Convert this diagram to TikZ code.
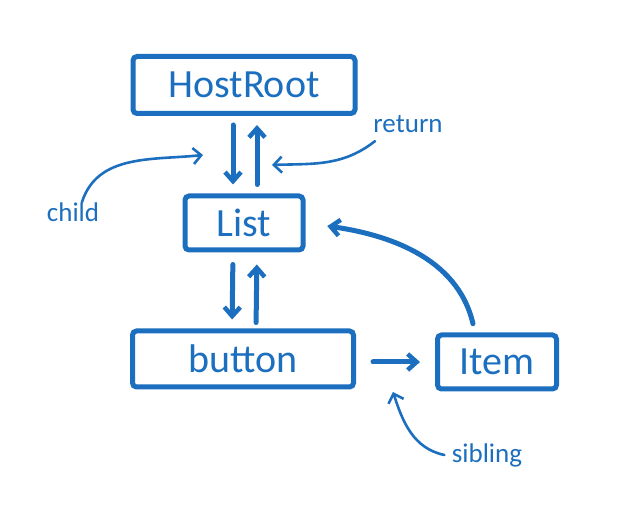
\documentclass[tikz,border=0pt]{standalone}
\usepackage{fontspec}
\setmainfont{Carlito}
\usepackage{tikz}
\usetikzlibrary{arrows.meta,positioning}
\definecolor{fiberblue}{HTML}{1C6FBE}
\tikzset{
  fiber/.style={draw=fiberblue,line width=5pt,rounded corners=4pt,text=fiberblue,font=\fontsize{40}{46}\selectfont,inner sep=0pt},
  link/.style={draw=fiberblue,line width=5pt,-{Straight Barb[length=9pt,width=16pt,line width=4.5pt]},line cap=round},
  note/.style={text=fiberblue,font=\fontsize{27}{32}\selectfont},
  hint/.style={draw=fiberblue,line width=2.6pt,-{Straight Barb[length=8pt,width=16pt]},line cap=round}
}
\begin{document}
\begin{tikzpicture}[x=1pt,y=1pt]
  \useasboundingbox (0,0) rectangle (642,518);
  % fiber nodes
  \node[fiber,minimum width=222pt,minimum height=57pt] (host) at (244,433) {HostRoot};
  \node[fiber,minimum width=118pt,minimum height=54pt] (list) at (244,295) {List};
  \node[fiber,minimum width=221pt,minimum height=56pt] (button) at (243,159) {button};
  \node[fiber,minimum width=119pt,minimum height=54pt] (item) at (497,156) {Item};
  % child / return pointers
  \draw[link,shorten <=9pt,shorten >=9pt] ([xshift=-11pt]host.south) -- ([xshift=-11pt]list.north);
  \draw[link,shorten <=9pt,shorten >=9pt] ([xshift=13pt]list.north) -- ([xshift=13pt]host.south);
  \draw[link,shorten <=12pt,shorten >=9pt] ([xshift=-11pt]list.south) -- ([xshift=-11pt]button.north);
  \draw[link,shorten <=6pt,shorten >=12pt] ([xshift=13pt]button.north) -- ([xshift=13pt]list.south);
  % sibling and return of Item
  \draw[link,shorten <=17pt,shorten >=15pt] (button.east |- item.west) -- (item.west);
  \draw[link,shorten <=9pt,shorten >=22pt] ([xshift=-22pt]item.north) to[out=103,in=-8] (list.east);
  % labels
  \node[note] (child) at (73,306) {child};
  \node[note] (return) at (408,394) {return};
  \node[note] (sibling) at (487,63) {sibling};
  \coordinate (childtip) at (203,363);
  \coordinate (returntip) at (272,353);
  \coordinate (siblingtip) at (393,126);
  \draw[hint] ([xshift=9pt,yshift=-3pt]child.north) to[out=72,in=186] (childtip);
  \draw[hint] ([xshift=-33pt,yshift=-5pt]return.south) to[out=218,in=2] (returntip);
  \draw[hint] ([xshift=-4pt]sibling.west) to[out=168,in=-72] (siblingtip);
\end{tikzpicture}
\end{document}
